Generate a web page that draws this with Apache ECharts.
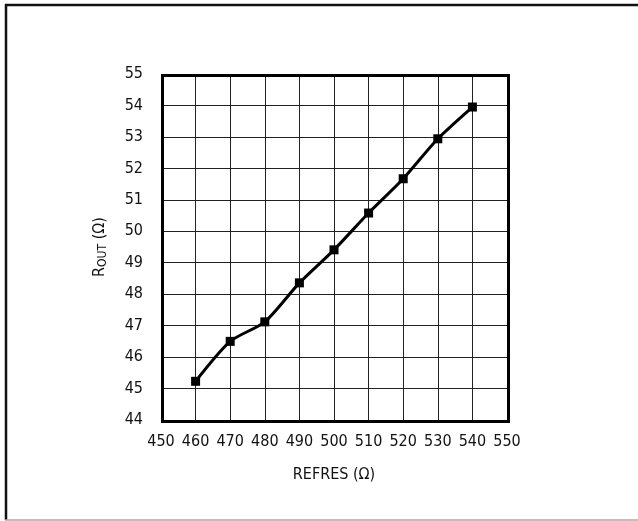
<!DOCTYPE html>
<html><head><meta charset="utf-8">
<script src="https://cdn.jsdelivr.net/npm/echarts@6/dist/echarts.min.js"></script>
<style>html,body{margin:0;padding:0;background:#fff}#c{width:638px;height:521px}</style>
</head><body><div id="c"></div>
<script>
const refres = [460, 470, 480, 490, 500, 510, 520, 530, 540];
const rout = [45.23, 46.5, 47.12, 48.36, 49.41, 50.58, 51.67, 52.94, 53.95];
const FONT = '"Liberation Sans Narrow", "DejaVu Sans Condensed", "Liberation Sans", sans-serif';
const chart = echarts.init(document.getElementById('c'));
chart.setOption({
  animation: false,
  backgroundColor: '#fff',
  grid: {left: 161, top: 74, width: 346, height: 346, containLabel: false},
  xAxis: {
    type: 'value', min: 450, max: 550, interval: 10,
    name: 'REFRES (Ω)', nameLocation: 'middle', nameGap: 47,
    nameTextStyle: {fontFamily: FONT, fontSize: 16, color: '#111'},
    axisLine: {show: false}, axisTick: {show: false},
    axisLabel: {fontFamily: FONT, fontSize: 16, color: '#111', margin: 14},
    splitLine: {show: true, lineStyle: {color: '#222', width: 1}}
  },
  yAxis: {
    type: 'value', min: 44, max: 55, interval: 1,
    name: '{r|R}{s|OUT}{r| (Ω)}', nameLocation: 'middle', nameGap: 52,
    nameRotate: 90,
    nameTextStyle: {fontFamily: FONT, fontSize: 16, color: '#111',
      rich: {r: {fontFamily: FONT, fontSize: 16, color: '#111'},
             s: {fontFamily: FONT, fontSize: 12, color: '#111', verticalAlign: 'bottom', padding: [6,0,0,0]}}},
    axisLine: {show: false}, axisTick: {show: false},
    axisLabel: {fontFamily: FONT, fontSize: 16, color: '#111', margin: 18},
    splitLine: {show: true, lineStyle: {color: '#222', width: 1}}
  },
  series: [{
    type: 'line',
    data: refres.map((x, i) => [x, rout[i]]),
    smooth: 0.25,
    symbol: 'rect', symbolSize: 9,
    lineStyle: {color: '#000', width: 3},
    itemStyle: {color: '#000'},
    z: 5
  }]
});
const g = chart.getModel().getComponent('grid').coordinateSystem.getRect();
chart.setOption({graphic: [
  {type: 'line', shape: {x1: 5, y1: 5, x2: 638, y2: 5}, style: {stroke: '#111', lineWidth: 2.5}, silent: true},
  {type: 'line', shape: {x1: 6, y1: 4, x2: 6, y2: 520}, style: {stroke: '#111', lineWidth: 2.5}, silent: true},
  {type: 'line', shape: {x1: 5, y1: 520, x2: 638, y2: 520}, style: {stroke: '#aaa', lineWidth: 1.5}, silent: true},
  {
    type: 'rect', left: g.x - 1.5 + 0.5, top: g.y - 1.5 + 0.5, shape: {width: g.width, height: g.height},
    style: {fill: 'none', stroke: '#000', lineWidth: 3}, silent: true, z: 10
  }]});
</script></body></html>
